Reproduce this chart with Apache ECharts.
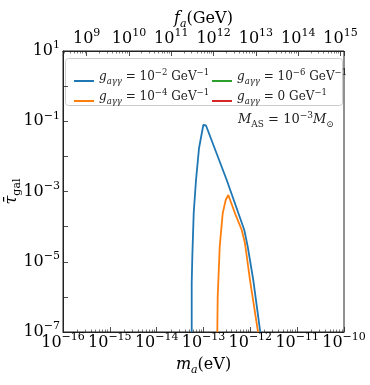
<!DOCTYPE html>
<html><head><meta charset="utf-8">
<script src="https://cdn.jsdelivr.net/npm/echarts@6/dist/echarts.min.js"></script>
<style>html,body{margin:0;padding:0;background:#fff}#c{width:370px;height:385px}</style>
</head><body><div id="c"></div>
<script>
// ---- data ----
const maBlue   = [5.60e-14, 5.60e-14, 5.77e-14, 6.18e-14, 6.92e-14, 8.02e-14, 9.91e-14, 1.13e-13, 3.13e-13, 7.43e-13, 8.79e-13, 1.156e-12, 1.607e-12, 1.648e-12];
const tauBlue  = [1e-7, 2.48e-6, 1.39e-5, 2.44e-4, 2.12e-3, 1.70e-2, 7.82e-2, 7.59e-2, 2.12e-3, 8.02e-5, 2.69e-5, 3.02e-6, 1.15e-7, 1e-7];
const maOrange = [1.97e-13, 2.01e-13, 2.22e-13, 2.57e-13, 2.98e-13, 3.39e-13, 4.71e-13, 6.55e-13, 7.69e-13, 9.84e-13, 1.435e-12, 1.48e-12];
const tauOrange= [1e-7, 1.01e-6, 2.69e-5, 2.39e-4, 5.73e-4, 7.94e-4, 2.39e-4, 8.02e-5, 3.35e-5, 3.02e-6, 1.15e-7, 1e-7];
const maGreen = [], tauGreen = [];
const maRed = [], tauRed = [];
const couplingLabels = ['−2', '−4', '−6', '0'];
const seriesColors = ['#1f77b4', '#ff7f0e', '#2ca02c', '#d62728'];
const maRange = [1e-16, 1e-10];
const tauRange = [1e-7, 1e1];
const yLabelExps = [1, -1, -3, -5, -7];
const faRange = [2.754e8, 1.21e15];

const FONT = 'DejaVu Serif';
function sup(n) { return String(n).replace('-', '−'); }
function powLabel(v) {
  const e = Math.round(Math.log10(v));
  return '{b|10}{s|' + sup(e) + '}';
}
const tickRich = {
  b: {fontFamily: FONT, fontSize: 16, lineHeight: 16, verticalAlign: 'bottom', color: '#000'},
  s: {fontFamily: FONT, fontSize: 11, lineHeight: 11, padding: [0, 0, 8, 0], verticalAlign: 'bottom', color: '#000'}
};
const txtRich = {
  i: {fontFamily: FONT, fontStyle: 'italic', fontSize: 12, lineHeight: 12, padding: [0,0,4,0], verticalAlign: 'bottom', color: '#222'},
  t: {fontFamily: FONT, fontSize: 12, lineHeight: 12, padding: [0,0,4,0], verticalAlign: 'bottom', color: '#222'},
  sub: {fontFamily: FONT, fontStyle: 'italic', fontSize: 8.5, lineHeight: 9, padding: [0,0,1,0], verticalAlign: 'bottom', color: '#222'},
  subr: {fontFamily: FONT, fontSize: 8.5, lineHeight: 9, padding: [0,0,1,0], verticalAlign: 'bottom', color: '#222'},
  sup: {fontFamily: FONT, fontSize: 8.5, lineHeight: 9, padding: [0,0,10,0], verticalAlign: 'bottom', color: '#222'}
};
const titleRich = {
  i: {fontFamily: FONT, fontStyle: 'italic', fontSize: 16, lineHeight: 16, padding: [0,0,3,0], verticalAlign: 'bottom', color: '#000'},
  r: {fontFamily: FONT, fontSize: 16, lineHeight: 16, padding: [0,0,3,0], verticalAlign: 'bottom', color: '#000'},
  sub: {fontFamily: FONT, fontStyle: 'italic', fontSize: 11, lineHeight: 11, padding: [0,0,0,0], verticalAlign: 'bottom', color: '#000'},
  subr: {fontFamily: FONT, fontSize: 11, lineHeight: 11, padding: [0,0,0,0], verticalAlign: 'bottom', color: '#000'}
};
const names = couplingLabels.map((c, k) => 'g' + k);
function legendFmt(name) {
  const c = couplingLabels[+name.slice(1)];
  if (c === '0') return '{i|g}{sub|aγγ}{t| = 0 GeV}{sup|−1}';
  return '{i|g}{sub|aγγ}{t| = 10}{sup|' + c + '}{t| GeV}{sup|−1}';
}
function pairs(xs, ys) { return xs.map((x, k) => [x, ys[k]]); }
const datasets = [pairs(maBlue, tauBlue), pairs(maOrange, tauOrange), pairs(maGreen, tauGreen), pairs(maRed, tauRed)];

const chart = echarts.init(document.getElementById('c'), null, {renderer: 'canvas'});
const axisCommon = {
  axisLine: {show: true, lineStyle: {color: '#222', width: 1}},
  axisTick: {show: true, inside: true, length: 5, lineStyle: {color: '#222', width: 0.8}},
  splitLine: {show: false},
  nameMoveOverlap: false
};
chart.setOption({
  animation: false,
  backgroundColor: '#fff',
  grid: {left: 63, right: 26, top: 51, bottom: 53, show: true, borderColor: '#222', borderWidth: 1, containLabel: false, outerBoundsMode: 'none'},
  xAxis: [{
    type: 'log', logBase: 10, min: maRange[0], max: maRange[1], position: 'bottom', gridIndex: 0,
    ...axisCommon,
    minorTick: {show: true, splitNumber: 9, length: 2.5, lineStyle: {color: '#222', width: 0.6}},
    axisLabel: {margin: 3, formatter: powLabel, rich: tickRich, showMinLabel: true, showMaxLabel: true, hideOverlap: false},
    name: '{i|m}{sub|a}{r|(eV)}', nameLocation: 'middle', nameGap: 28, nameTextStyle: {rich: titleRich}
  }, {
    type: 'log', logBase: 10, min: faRange[0], max: faRange[1], position: 'top', gridIndex: 0,
    ...axisCommon,
    minorTick: {show: true, splitNumber: 9, length: 2.5, lineStyle: {color: '#222', width: 0.6}},
    axisLabel: {margin: 4, rich: tickRich, hideOverlap: false, formatter: function (v) {
      const l = Math.log10(v);
      if (Math.abs(l - Math.round(l)) > 1e-6) return '';
      return powLabel(v);
    }},
    name: '{i|f}{sub|a}{r|(GeV)}', nameLocation: 'middle', nameGap: 21, nameTextStyle: {rich: titleRich}
  }],
  yAxis: [{
    type: 'log', logBase: 10, min: tauRange[0], max: tauRange[1], interval: 1,
    ...axisCommon,
    axisLabel: {margin: 3, rich: tickRich, hideOverlap: false, formatter: function (v) {
      const e = Math.round(Math.log10(v));
      if (yLabelExps.indexOf(e) < 0) return '';
      return powLabel(v);
    }},
    name: '{i|τ̄}{subr|gal}', nameLocation: 'middle', nameGap: 40, nameRotate: 90, nameTextStyle: {rich: titleRich}
  }],
  legend: [{
    data: [names[0], names[1]], orient: 'vertical', left: 69, top: 63, itemWidth: 20, itemHeight: 2, itemGap: 1,
    icon: 'rect', selectedMode: false, formatter: legendFmt, textStyle: {rich: txtRich}
  }, {
    data: [names[2], names[3]], orient: 'vertical', left: 207, top: 63, itemWidth: 20, itemHeight: 2, itemGap: 1,
    icon: 'rect', selectedMode: false, formatter: legendFmt, textStyle: {rich: txtRich}
  }],
  graphic: [{
    type: 'rect', left: 65, top: 58, z: 0,
    shape: {width: 277, height: 47, r: 3},
    style: {fill: 'rgba(255,255,255,0.8)', stroke: '#cccccc', lineWidth: 1}
  }, {
    type: 'text', left: 238, top: 111, z: 10,
    style: {
      text: '{i|M}{subr|AS}{t| = 10}{sup|−3}{i|M}{subr|⊙}',
      rich: {
        i: {fontFamily: FONT, fontStyle: 'italic', fontSize: 13, lineHeight: 13, padding: [0,0,4,0], verticalAlign: 'bottom', fill: '#222'},
        t: {fontFamily: FONT, fontSize: 13, lineHeight: 13, padding: [0,0,4,0], verticalAlign: 'bottom', fill: '#222'},
        subr: {fontFamily: FONT, fontSize: 9, lineHeight: 9, padding: [0,0,1,0], verticalAlign: 'bottom', fill: '#222'},
        sup: {fontFamily: FONT, fontSize: 9, lineHeight: 9, padding: [0,0,10,0], verticalAlign: 'bottom', fill: '#222'}
      }
    }
  }],
  series: names.map((n, k) => ({
    name: n, type: 'line', xAxisIndex: 0, yAxisIndex: 0, data: datasets[k],
    showSymbol: false, symbol: 'none', clip: true, smooth: false,
    color: seriesColors[k], lineStyle: {color: seriesColors[k], width: 1.8}, itemStyle: {color: seriesColors[k]}
  }))
});
</script></body></html>
